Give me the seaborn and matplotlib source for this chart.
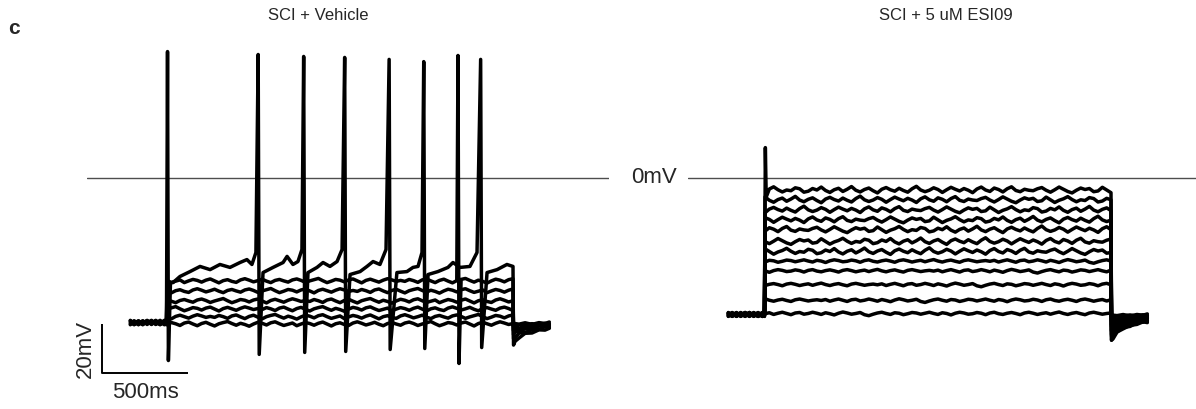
import numpy as np
import pandas as pd
import seaborn as sns
import matplotlib.pyplot as plt

# ---- data (ms / mV) ----
STEP_T = np.arange(0, 2001, 25)          # sampling grid of the 2 s current step
PRE_T = [-212, -190, -165, -140, -115, -90, -65, -40, -15, -3]
POST_T = [2003, 2012, 2035, 2070, 2110, 2150, 2185, 2210]
POST_SHAPE = [1.0, 0.9, 0.7, 0.55, 0.45, 0.35, 0.3, 0.3]

# SCI + Vehicle
LEFT_BASE = -59.2
LEFT_LEVELS = [-60.0, -57.1, -53.9, -50.6, -46.5, -42.4]
LEFT_POST_DIP = [-60, -61, -62, -63, -64, -66, -68]
LEFT_PRE = [0.7, -0.8, 0.5, -0.3, 0.9, -0.6, 0.2, -0.9, 0.6, -0.2]
LEFT_WOBBLE = [
    0.0, 0.8, 0.3, -0.4, 0.6, 1.0, 0.2, -0.5, 0.4, 0.9,
    0.1, -0.6, 0.3, 0.8, 1.2, 0.4, -0.3, 0.5, 0.0, -0.7,
    0.2, 0.9, 0.5, -0.2, 0.7, 1.1, 0.3, -0.4, 0.1, 0.6,
    -0.5, 0.2, 0.8, 0.4, -0.3, 0.5, 1.0, 0.2, -0.6, 0.3,
    0.7, 0.0, -0.4, 0.6, 1.1, 0.5, -0.2, 0.3, 0.9, 0.1,
    -0.5, 0.4, 0.8, 0.2, -0.3, 0.6, 1.0, 0.4, -0.4, 0.2,
    0.7, 1.2, 0.3, -0.5, 0.1, 0.8, 0.5, -0.2, 0.6, 1.0,
    0.2, -0.6, 0.4, 0.9, 0.3, -0.3, 0.5, 1.1, 0.6, 0.0,
    0.4]
# spiking sweep, typed point by point
LEFT_TOP_T = [3, 8, 20, 35, 75, 133, 191, 249, 306, 364, 422, 462, 491, 514,
              527, 533, 555, 613, 671, 694, 728, 757, 780,
              790, 796, 815, 867, 902, 942, 983, 1012,
              1027, 1033, 1058, 1116, 1156, 1191, 1231, 1266,
              1284, 1290, 1329, 1387, 1422, 1451, 1474,
              1484, 1490, 1509, 1566, 1624, 1653, 1694, 1751, 1792,
              1813, 1819, 1850, 1908, 1965, 2000]
LEFT_TOP_V = [51.4, -74.7, -43.0, -42.9, -40.4, -38.4, -36.3, -37.6, -35.5, -36.7, -34.7, -33.5, -35.5, -30.6,
              50.2, -72.2, -38.8, -36.7, -34.7, -32.2, -35.5, -34.3, -29.4,
              49.4, -71.4, -38.8, -36.7, -34.7, -36.3, -34.3, -29.4,
              49.0, -71.0, -39.6, -38.4, -36.3, -34.3, -35.5, -29.4,
              48.2, -70.2, -38.8, -38.4, -36.7, -36.3, -30.6,
              47.3, -69.8, -39.6, -38.4, -36.7, -34.7, -36.7, -36.3, -30.6,
              48.2, -69.4, -38.8, -37.6, -35.5, -36.3]
# single spike on the second-highest sweep: time, peak, trough
LEFT_EXTRA_SPIKE = [1682, 49.8, -75.9]

# SCI + 5 uM ESI09
RIGHT_BASE = -55.9
RIGHT_LEVELS = [-55.6, -50.2, -43.8, -38.2, -34.2, -30.5, -26.4,
                -21.6, -17.6, -13.5, -9.4, -5.4]
RIGHT_POST_DIP = [-56.5, -57, -58, -59, -60, -61, -62, -63, -64, -65, -66, -66.5]
RIGHT_ONSET_SPIKE = [12.2, -8.0]
RIGHT_PRE = [0.6, -0.7, 0.4, -0.3, 0.8, -0.5, 0.2, -0.8, 0.5, -0.1]
RIGHT_CALM = [
    0.0, 0.4, -0.3, 0.2, 0.6, 0.1, -0.4, 0.3, 0.5, -0.2,
    0.1, 0.6, 0.2, -0.3, 0.4, 0.0, -0.5, 0.2, 0.7, 0.3,
    -0.2, 0.1, 0.5, -0.4, -0.8, -0.2, 0.3, 0.6, 0.1, -0.3,
    0.4, 0.2, -0.4, 0.0, 0.5, 0.3, -0.2, 0.2, 0.6, 0.1,
    -0.3, 0.4, 0.1, -0.5, 0.2, 0.6, 0.3, -0.2, 0.0, 0.5,
    0.2, -0.4, 0.3, 0.6, 0.0, -0.3, 0.2, 0.5, 0.1, -0.4,
    0.3, 0.6, 0.2, -0.3, 0.1, 0.4, -0.2, 0.3, 0.7, 0.1,
    -0.3, 0.2, 0.5, 0.0, -0.4, 0.3, 0.6, 0.2, -0.2, 0.1,
    0.3]
RIGHT_JAGGED = [
    0.0, 0.8, 1.3, 0.2, -0.6, 0.4, 1.5, 0.6, -0.3, -0.9,
    0.2, 1.1, 0.5, 0.9, -0.4, -0.1, 1.4, 0.3, -0.8, 0.1,
    0.7, 1.6, 0.4, -0.5, 0.3, 0.0, 1.2, 0.8, -0.6, -0.2,
    0.9, 0.3, 1.5, 0.1, -0.7, 0.4, 1.0, -0.3, 0.6, 1.7,
    0.2, -0.5, 0.5, 1.1, 0.0, -0.9, 0.6, 1.3, 0.4, -0.2,
    1.0, 0.1, -0.6, 0.8, 1.8, 0.3, -0.4, 0.2, 1.2, 0.5,
    -0.7, 0.4, 1.4, 0.6, -0.1, 0.9, 0.2, -0.8, 0.7, 1.5,
    0.3, -0.3, 1.1, 0.5, -0.5, 0.8, 1.6, 0.1, -0.4, 0.6,
    0.2]

SCALE_MS, SCALE_MV = 500, 20


def sweep_rows(sweep, base, pre_wob, step_t, step_v, dip, shift):
    pre_v = base + np.roll(pre_wob, shift)
    post_v = [base + s * (dip - base) + 0.5 * w
              for s, w in zip(POST_SHAPE, np.roll(pre_wob, shift + 3))]
    t = list(PRE_T) + list(step_t) + POST_T
    v = list(pre_v) + list(step_v) + post_v
    return pd.DataFrame({"sweep": sweep, "t": t, "v": v})


# left panel traces
left = []
for i, lev in enumerate(LEFT_LEVELS):
    st = list(STEP_T)
    sv = list(lev + np.roll(LEFT_WOBBLE, 11 * i))
    if i == len(LEFT_LEVELS) - 1:
        ts, pk, tr = LEFT_EXTRA_SPIKE
        k = int(np.searchsorted(STEP_T, ts))
        st = st[:k] + [ts, ts + 6] + st[k:]
        sv = sv[:k] + [pk, tr] + sv[k:]
    left.append(sweep_rows(i, LEFT_BASE, LEFT_PRE, st, sv, LEFT_POST_DIP[i], i))
n = len(LEFT_LEVELS)
left.append(sweep_rows(n, LEFT_BASE, LEFT_PRE, LEFT_TOP_T, LEFT_TOP_V, LEFT_POST_DIP[n], n))
df_left = pd.concat(left, ignore_index=True)

# right panel traces
right = []
for i, lev in enumerate(RIGHT_LEVELS):
    wob = RIGHT_CALM if i < 5 else RIGHT_JAGGED
    st = list(STEP_T)
    sv = list(lev + np.roll(wob, 13 * i))
    if i == len(RIGHT_LEVELS) - 1:
        st = [2, 7] + st[1:]
        sv = RIGHT_ONSET_SPIKE + sv[1:]
    right.append(sweep_rows(i, RIGHT_BASE, RIGHT_PRE, st, sv, RIGHT_POST_DIP[i], i))
df_right = pd.concat(right, ignore_index=True)

# ---- figure ----
sns.set_theme(style="white")
plt.rcParams["font.family"] = ["Liberation Sans", "DejaVu Sans"]

W, H = 1196, 409
fig = plt.figure(figsize=(W / 100, H / 100), dpi=100)
ax_l = fig.add_axes([87 / W, 0, 522 / W, 1])
ax_r = fig.add_axes([688 / W, 0, 508 / W, 1])

px_ms, px_mv = 0.173, 2.45
ax_l.set_xlim((87 - 167) / px_ms, (609 - 167) / px_ms)
ax_r.set_xlim((688 - 765) / px_ms, (1196 - 765) / px_ms)
for ax in (ax_l, ax_r):
    ax.set_ylim(-(H - 177.5) / px_mv, 177.5 / px_mv)

for ax, d in ((ax_l, df_left), (ax_r, df_right)):
    sns.lineplot(data=d, x="t", y="v", units="sweep", estimator=None, sort=False,
                 color="black", lw=2.5, ax=ax, legend=False)
    ax.axhline(0, color="#4d4d4d", lw=1.0, zorder=0)
    ax.set_axis_off()

# scale bar
x0 = (101.7 - 167) / px_ms
y0 = -59.8
ax_l.plot([x0, x0, x0 + SCALE_MS], [y0, y0 - SCALE_MV, y0 - SCALE_MV],
          color="black", lw=1.4, solid_capstyle="butt", clip_on=False)
ax_l.text(x0 - 97, y0 - SCALE_MV / 2, f"{SCALE_MV}mV", rotation=90,
          ha="center", va="center", fontsize=16, clip_on=False)
ax_l.text(x0 + 250, y0 - SCALE_MV - 7.8, f"{SCALE_MS}ms",
          ha="center", va="center", fontsize=16)

fig.text(14 / W, 1 - 28 / H, "c", fontsize=15, fontweight="bold", ha="center", va="center")
fig.text(318 / W, 1 - 16 / H, "SCI + Vehicle", fontsize=12, ha="center", va="center")
fig.text(946 / W, 1 - 16 / H, "SCI + 5 uM ESI09", fontsize=12, ha="center", va="center")
fig.text(653.5 / W, 1 - 177.5 / H, "0mV", fontsize=16, ha="center", va="center")

fig.savefig("out.png", dpi=100, facecolor="white")
